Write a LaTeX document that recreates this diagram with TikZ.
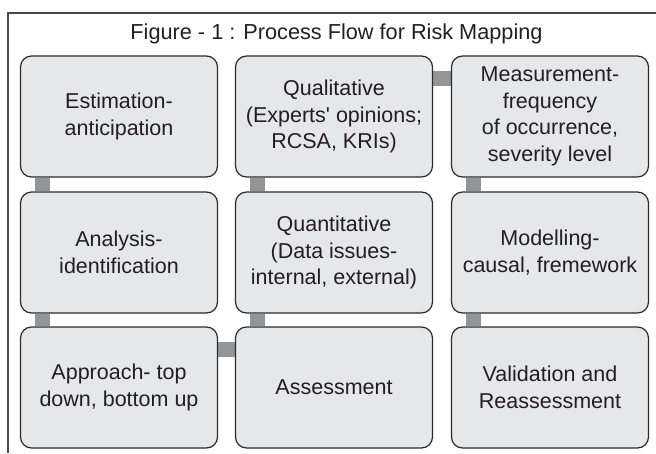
\documentclass[tikz,border=0pt]{standalone}
\usepackage{fontspec}
\setmainfont{Liberation Sans}
\usetikzlibrary{backgrounds,calc}
\definecolor{boxfill}{HTML}{E6E7E8}
\definecolor{boxline}{HTML}{2B2B2B}
\definecolor{connfill}{HTML}{939598}
\definecolor{frameline}{HTML}{4A4A4A}
\definecolor{txt}{HTML}{231F20}
\begin{document}
\begin{tikzpicture}[x=1pt,y=-1pt,
  stepbox/.style={draw=boxline, fill=boxfill, line width=1.2pt, rounded corners=11pt,
    minimum width=197pt, minimum height=121pt, align=center, inner sep=0pt,
    text=txt, font=\fontsize{21.5}{26.5}\selectfont},
  conn/.style={draw=connfill, line width=15pt},
  frame/.style={draw=frameline, line width=1.6pt}]
\useasboundingbox (0,0) rectangle (656,453);
\coordinate (ftl) at (8,13);
\coordinate (ftr) at (656,13);
\coordinate (fbl) at (8,453);
\draw[frame] (ftr) -- (ftl) -- (fbl);
\node[text=txt, font=\fontsize{21.7}{24}\selectfont, anchor=base, inner sep=0pt] (title) at (336.5,39.5) {Figure - 1 : Process Flow for Risk Mapping};
\node[stepbox] (b11) at (119,116.5) {Estimation-\\anticipation};
\node[stepbox] (b12) at (334,116.5) {Qualitative\\(Experts\textquotesingle\ opinions;\\RCSA, KRIs)};
\node[stepbox] (b13) at (550,116.5) {Measurement-\\frequency\\of occurrence,\\severity level};
\node[stepbox] (b21) at (119,252.5) {Analysis-\\identification};
\node[stepbox] (b22) at (334,252.5) {Quantitative\\(Data issues-\\internal, external)};
\node[stepbox] (b23) at (550,252.5) {Modelling-\\causal, fremework};
\node[stepbox] (b31) at (119,387.5) {Approach- top\\down, bottom up};
\node[stepbox] (b32) at (334,387.5) {Assessment};
\node[stepbox] (b33) at (550,387.5) {Validation and\\Reassessment};
\begin{scope}[on background layer]
\draw[conn] ($(b11.south west)+(23,0)$) -- ($(b21.north west)+(23,0)$);
\draw[conn] ($(b21.south west)+(23,0)$) -- ($(b31.north west)+(23,0)$);
\draw[conn] ($(b31.north east)+(0,23)$) -- ($(b32.north west)+(0,23)$);
\draw[conn] ($(b32.north west)+(23,0)$) -- ($(b22.south west)+(23,0)$);
\draw[conn] ($(b22.north west)+(23,0)$) -- ($(b12.south west)+(23,0)$);
\draw[conn] ($(b12.north east)+(0,23)$) -- ($(b13.north west)+(0,23)$);
\draw[conn] ($(b13.south west)+(23,0)$) -- ($(b23.north west)+(23,0)$);
\draw[conn] ($(b23.south west)+(23,0)$) -- ($(b33.north west)+(23,0)$);
\end{scope}
\end{tikzpicture}
\end{document}
